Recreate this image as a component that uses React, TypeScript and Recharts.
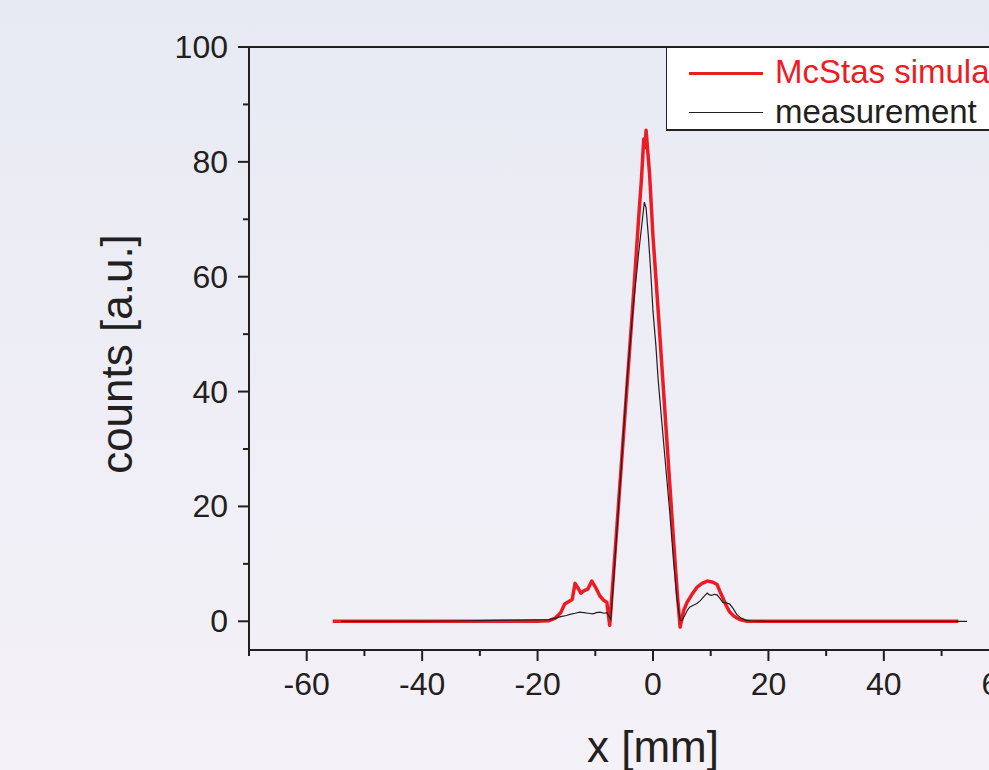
import { LineChart, Line, XAxis, YAxis, ReferenceLine } from 'recharts'

// McStas simulation (red)
const simX = [-55.5, -50, -40, -30, -20, -18, -17, -16, -15.3, -14.5, -14, -13.5, -13, -12.5, -12, -11.3, -10.6, -10, -9.2, -8.5, -8, -7.5, -6.5, -5.5, -4.5, -3.5, -2.5, -2, -1.6, -1.4, -1.2, -1.0, -0.6, 0, 0.9, 1.7, 2.5, 3.5, 4.2, 4.7, 5.3, 5.9, 6.7, 7.6, 8.5, 9.4, 10.4, 11.1, 11.6, 12.1, 12.7, 13.3, 14, 15, 16.3, 20, 30, 40, 52.9]
const simY = [0, 0, 0, 0, 0, 0.1, 0.5, 1.5, 3.0, 3.5, 3.8, 6.6, 5.8, 4.9, 5.3, 5.6, 7.0, 6.0, 4.4, 3.6, 3.3, -0.7, 13, 27, 41, 55, 70, 77, 84, 82.5, 85.5, 83, 78, 67, 54, 42, 30, 15, 5, -1, 1.8, 3.3, 4.6, 5.9, 6.6, 7.0, 6.8, 6.4, 5.2, 4.1, 2.7, 1.6, 0.9, 0.3, 0, 0, 0, 0, 0]

// measurement (black)
const measX = [-54, -45, -35, -28, -24, -20, -18, -17, -16, -15, -14.4, -13.5, -12.7, -12, -11.2, -10.4, -9.8, -9.2, -8.5, -8, -7.3, -6.5, -5.5, -4.5, -3.5, -2.5, -1.5, -1.2, -0.8, -0.4, 0, 0.5, 0.9, 1.5, 2.2, 2.9, 3.6, 4.2, 4.7, 5.0, 5.5, 6.0, 6.4, 7.0, 7.6, 8.2, 8.8, 9.4, 9.8, 10.2, 10.6, 11.1, 11.6, 12.1, 12.7, 13.3, 13.9, 14.5, 15.2, 16, 17, 20, 30, 40, 54.4]
const measY = [0, 0, 0.05, 0.15, 0.2, 0.25, 0.3, 0.5, 0.8, 1.0, 1.2, 1.4, 1.6, 1.5, 1.4, 1.3, 1.5, 1.6, 1.4, 1.5, 0.3, 12, 27, 42, 54, 64, 73, 72, 67, 61, 54, 48, 42, 35, 27, 19, 10, 3.5, 0.2, 0.1, 1.0, 2.0, 2.5, 2.8, 3.1, 3.6, 4.3, 4.9, 4.6, 4.5, 4.7, 4.6, 4.0, 3.3, 3.2, 3.0, 2.2, 1.2, 0.6, 0.2, 0.05, 0, 0, 0, 0]

const xTicks = [-70, -60, -50, -40, -30, -20, -10, 0, 10, 20, 30, 40, 50, 60, 70]
const yTicks = [0, 10, 20, 30, 40, 50, 60, 70, 80, 90, 100]

const simData = simX.map((x, i) => ({ x, y: simY[i] }))
const measData = measX.map((x, i) => ({ x, y: measY[i] }))

const FONT = '"Liberation Sans", Arial, sans-serif'
const INK = '#231f20'
const RED = '#ed1c24'

const YTick = (props: any) => {
  const { x, y, payload } = props
  const major = payload.value % 20 === 0
  return (
    <g>
      <line x1={x - (major ? 11 : 6)} x2={x} y1={y} y2={y} stroke={INK} strokeWidth={2} />
      {major && (
        <text x={x - 21} y={y + 11} textAnchor="end" fontSize={32} fill={INK} fontFamily={FONT}>
          {payload.value}
        </text>
      )}
    </g>
  )
}

const XTick = (props: any) => {
  const { x, y, payload } = props
  const major = payload.value % 20 === 0
  return (
    <g>
      <line x1={x} x2={x} y1={y} y2={y + (major ? 11 : 6)} stroke={INK} strokeWidth={2} />
      {major && (
        <text x={x} y={y + 45} textAnchor="middle" fontSize={32} fill={INK} fontFamily={FONT}>
          {payload.value}
        </text>
      )}
    </g>
  )
}

// legend box, cut by the right edge like in the original
const LegendBox = () => (
  <div style={{
    position: 'absolute', left: 666, top: 47,
    width: 400, height: 84, background: '#fff',
    border: `1.5px solid ${INK}`, borderBottomWidth: 2.5, boxSizing: 'border-box',
    fontFamily: FONT, fontSize: 33,
  }}>
    <div style={{ position: 'absolute', left: 22, top: 24, width: 74, height: 2.5, background: RED }} />
    <div style={{ position: 'absolute', left: 108, top: 6, color: RED, whiteSpace: 'nowrap', lineHeight: '36px' }}>
      McStas simulation
    </div>
    <div style={{ position: 'absolute', left: 22, top: 64, width: 74, height: 1, background: INK }} />
    <div style={{ position: 'absolute', left: 108, top: 46, color: INK, whiteSpace: 'nowrap', lineHeight: '36px' }}>
      measurement
    </div>
  </div>
)

export default function App() {
  return (
    <div style={{
      position: 'fixed', left: 0, top: 0, width: 989, height: 770, overflow: 'hidden',
      background: 'linear-gradient(180deg, #e7eaf3 0%, #efeef6 55%, #f4f1f7 100%)',
    }}>
      <LineChart
        width={1200}
        height={770}
        margin={{ top: 47, right: 143, bottom: 60, left: 189 }}
        style={{ position: 'absolute', left: 0, top: 0 }}
      >
        <XAxis
          type="number"
          dataKey="x"
          domain={[-70, 70]}
          ticks={xTicks}
          interval={0}
          height={60}
          allowDataOverflow
          tickSize={0}
          tickMargin={0}
          tickLine={false}
          axisLine={{ stroke: INK, strokeWidth: 2 }}
          tick={XTick}
        />
        <YAxis
          type="number"
          domain={[-5, 100]}
          ticks={yTicks}
          interval={0}
          width={60}
          allowDataOverflow
          tickSize={0}
          tickMargin={0}
          tickLine={false}
          axisLine={{ stroke: INK, strokeWidth: 2 }}
          tick={YTick}
        />
        <ReferenceLine y={100} stroke={INK} strokeWidth={2} />
        <ReferenceLine x={70} stroke={INK} strokeWidth={2} />
        <Line
          data={simData}
          dataKey="y"
          name="McStas simulation"
          stroke={RED}
          strokeWidth={3.5}
          dot={false}
          strokeLinejoin="round"
          isAnimationActive={false}
        />
        <Line
          data={measData}
          dataKey="y"
          name="measurement"
          stroke={INK}
          strokeWidth={1.2}
          dot={false}
          isAnimationActive={false}
        />
      </LineChart>
      <LegendBox />
      <div style={{
        position: 'absolute', left: 653, top: 722, transform: 'translateX(-50%)',
        fontFamily: FONT, fontSize: 44, color: INK, whiteSpace: 'nowrap', lineHeight: '50px',
      }}>
        x [mm]
      </div>
      <div style={{
        position: 'absolute', left: 117, top: 354, transform: 'translate(-50%, -50%) rotate(-90deg)',
        fontFamily: FONT, fontSize: 44, color: INK, whiteSpace: 'nowrap', lineHeight: '50px',
      }}>
        counts [a.u.]
      </div>
    </div>
  )
}
